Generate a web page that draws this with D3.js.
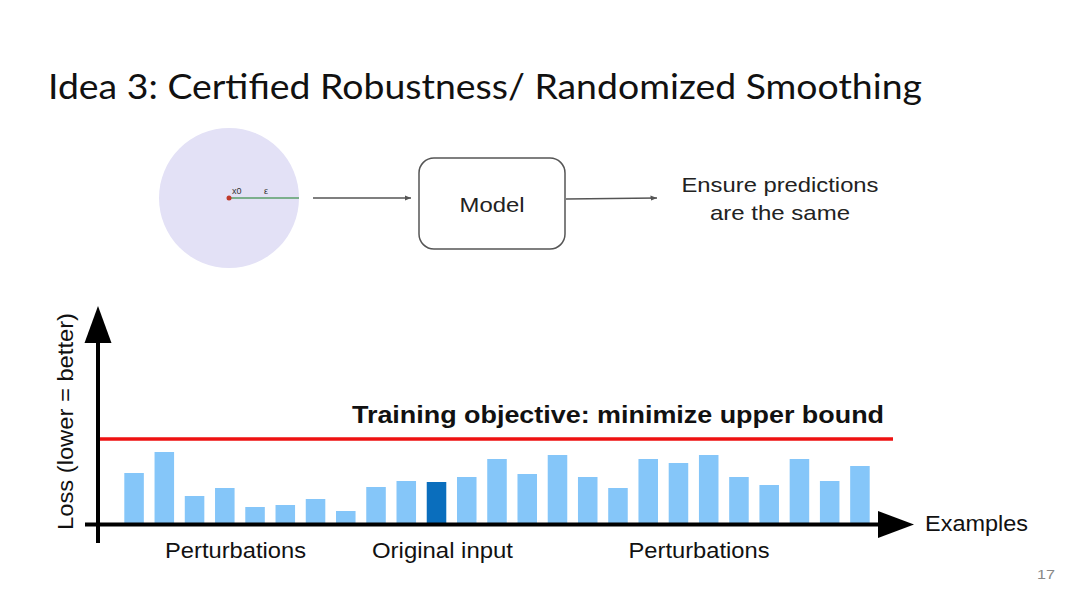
<!DOCTYPE html>
<html>
<head>
<meta charset="UTF-8">
<script src="https://d3js.org/d3.v7.min.js"></script>
<style>
    body { margin: 0; background: #fff; }
    svg { display: block; }
    .sans { font-family: "Liberation Sans", Arial, sans-serif; }
</style>
</head>
<body>
<svg id="slide" width="1080" height="608"></svg>
<script>
// loss per example (arbitrary units), index 10 is the original input
var examples = d3.range(25);
var losses = [5.0, 7.1, 2.7, 3.5, 1.6, 1.8, 2.4, 1.2, 3.6, 4.2, 4.1, 4.6, 6.4,
              4.9, 6.8, 4.6, 3.5, 6.4, 6.0, 6.8, 4.6, 3.8, 6.4, 4.2, 5.7];
var originalIndex = 10;
var upperBound = 8.4;
var groupLabels = ["Perturbations", "Original input", "Perturbations"];

var svg = d3.select('#slide');

// slide is a bit wider than the font, so texts get stretched to their width
function label(x, y, txt, size, len, anchor) {
    return svg.append('text').attr('class', 'sans')
        .attr('x', x).attr('y', y)
        .attr('text-anchor', anchor || 'middle')
        .attr('textLength', len).attr('lengthAdjust', 'spacingAndGlyphs')
        .style('font-size', size + 'px').attr('fill', '#111')
        .text(txt);
}

// title
svg.append('text')
    .attr('x', 48).attr('y', 99)
    .attr('textLength', 874).attr('lengthAdjust', 'spacingAndGlyphs')
    .style('font-family', 'Lato, sans-serif')
    .style('font-size', '35px')
    .attr('fill', '#111')
    .text('Idea 3: Certified Robustness/ Randomized Smoothing');

// ---- top diagram ----
var defs = svg.append('defs');
defs.append('marker')
    .attr('id', 'smallHead')
    .attr('viewBox', '0 0 10 10')
    .attr('refX', 10).attr('refY', 5)
    .attr('markerWidth', 5).attr('markerHeight', 5)
    .attr('orient', 'auto')
    .append('path').attr('d', 'M0,1 L10,5 L0,9 Z').attr('fill', '#555');

var cx = 229, cy = 198;
svg.append('circle').attr('cx', cx).attr('cy', cy).attr('r', 70).attr('fill', '#e3e1f6');
svg.append('line').attr('x1', cx).attr('y1', cy).attr('x2', 299).attr('y2', cy)
    .attr('stroke', '#5a9e6a').attr('stroke-width', 1.5);
svg.append('circle').attr('cx', cx).attr('cy', cy).attr('r', 2.5).attr('fill', '#c0392b');
svg.append('text').attr('class', 'sans').attr('x', 232).attr('y', 194)
    .style('font-size', '9px').attr('fill', '#333').text('x0');
svg.append('text').attr('class', 'sans').attr('x', 264).attr('y', 194)
    .style('font-size', '9px').attr('fill', '#333').text('ε');

svg.append('line').attr('x1', 313).attr('y1', 198).attr('x2', 411).attr('y2', 198)
    .attr('stroke', '#555').attr('stroke-width', 1.3).attr('marker-end', 'url(#smallHead)');
svg.append('rect').attr('x', 419).attr('y', 158).attr('width', 146).attr('height', 91)
    .attr('rx', 15).attr('fill', 'none').attr('stroke', '#555').attr('stroke-width', 1.5);
label(492, 212, 'Model', 21, 65).attr('fill', '#222');
svg.append('line').attr('x1', 566).attr('y1', 199).attr('x2', 657).attr('y2', 198)
    .attr('stroke', '#555').attr('stroke-width', 1.3).attr('marker-end', 'url(#smallHead)');
label(780, 192, 'Ensure predictions', 21, 197).attr('fill', '#222');
label(780, 220, 'are the same', 21, 140).attr('fill', '#222');

// ---- bar chart ----
var x = d3.scaleBand().domain(examples).range([124.3, 869.7]).paddingInner(0.354);
var y = d3.scaleLinear().domain([0, 10]).range([523, 423]);

svg.append('g').selectAll('rect')
    .data(losses)
    .join('rect')
    .attr('x', function(d, i) { return x(i); })
    .attr('y', function(d) { return y(d); })
    .attr('width', x.bandwidth())
    .attr('height', function(d) { return y(0) - y(d); })
    .attr('fill', function(d, i) { return i === originalIndex ? '#0a6ebd' : '#85c6f9'; });

// upper bound line
svg.append('line')
    .attr('x1', 99).attr('x2', 893)
    .attr('y1', y(upperBound)).attr('y2', y(upperBound))
    .attr('stroke', '#ee1111').attr('stroke-width', 3.5);

label(618, 423, 'Training objective: minimize upper bound', 24, 532)
    .style('font-weight', 'bold');

// axes
svg.append('line').attr('x1', 85).attr('x2', 880).attr('y1', 524.5).attr('y2', 524.5)
    .attr('stroke', '#000').attr('stroke-width', 4);
svg.append('path').attr('d', 'M878,511 L914,524.5 L878,538 Z').attr('fill', '#000');
svg.append('line').attr('x1', 98).attr('x2', 98).attr('y1', 340).attr('y2', 543)
    .attr('stroke', '#000').attr('stroke-width', 4);
svg.append('path').attr('d', 'M84.5,343 L98,306 L111.5,343 Z').attr('fill', '#000');

label(0, 0, 'Loss (lower = better)', 22, 217)
    .attr('transform', 'translate(73,421.5) rotate(-90)');

label(925, 531, 'Examples', 22, 103, 'start');

var labelX = [235.5, 442.5, 699];
svg.append('g').selectAll('text')
    .data(groupLabels)
    .join('text')
    .attr('class', 'sans')
    .attr('x', function(d, i) { return labelX[i]; })
    .attr('y', 558)
    .attr('text-anchor', 'middle')
    .attr('textLength', 141).attr('lengthAdjust', 'spacingAndGlyphs')
    .style('font-size', '22px').attr('fill', '#111')
    .text(function(d) { return d; });

label(1055, 579, '17', 13, 18, 'end').attr('fill', '#888');
</script>
</body>
</html>
